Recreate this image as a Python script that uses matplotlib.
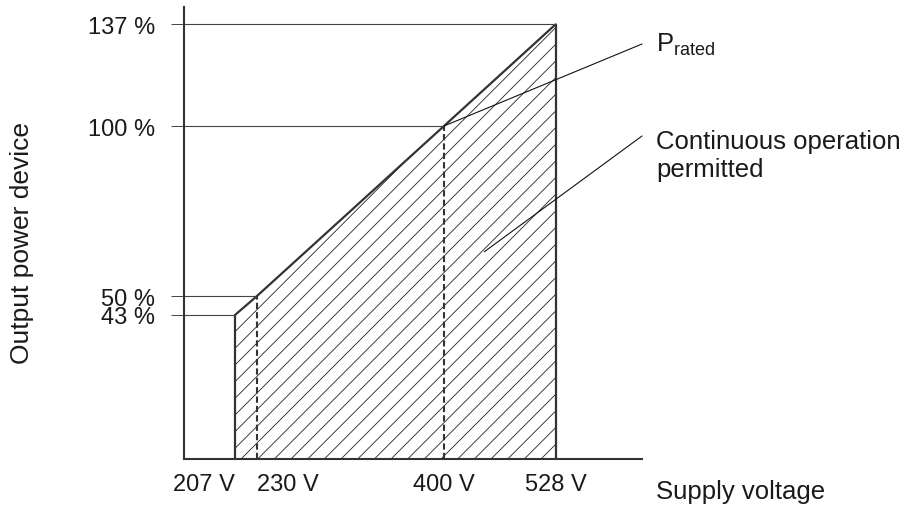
import numpy as np
import matplotlib
matplotlib.use("Agg")
from matplotlib import pyplot as plt

# data
volts = [207, 230, 400, 528]
power = [43, 50, 100, 137]
volt_labels = ["207 V", "230 V", "400 V", "528 V"]
power_labels = ["43 %", "50 %", "100 %", "137 %"]

# schematic axes: not to scale, so map values to positions piecewise
x_vals = [0, 207, 230, 400, 528, 700]
x_pos = [0, 51, 73, 260, 372, 458]
y_vals = [0, 43, 50, 100, 137, 150]
y_pos = [0, 144, 163, 333, 435, 452]

plt.rcParams['font.family'] = ['Liberation Sans', 'DejaVu Sans']
plt.rcParams['mathtext.fontset'] = 'custom'
plt.rcParams['mathtext.rm'] = 'Liberation Sans'
plt.rcParams['mathtext.it'] = 'Liberation Sans:italic'
plt.rcParams['hatch.linewidth'] = 0.6

W, H = 913, 506
fig = plt.figure(figsize=(W / 100, H / 100), dpi=100)
ax = fig.add_axes([184 / W, 46 / H, 458 / W, 452 / H])

ax.set_xscale('function', functions=(lambda v: np.interp(v, x_vals, x_pos),
                                     lambda p: np.interp(p, x_pos, x_vals)))
ax.set_yscale('function', functions=(lambda v: np.interp(v, y_vals, y_pos),
                                     lambda p: np.interp(p, y_pos, y_vals)))
ax.set_xlim(0, 700)
ax.set_ylim(0, 150)

dark = '#333333'
ax.fill_between(volts, power, 0, facecolor='white', edgecolor='#222222',
                hatch='//', linewidth=0)
ax.plot([volts[0]] + volts + [volts[-1]], [0] + power + [0],
        color=dark, lw=1.6, solid_joinstyle='miter')
ax.hlines(power, 0, volts, colors='#444444', lw=0.8)
ax.vlines([volts[1], volts[2]], 0, [power[1], power[2]], colors=dark,
          lw=1.5, linestyles=(0, (3, 1.5)))

for s in ['top', 'right']:
    ax.spines[s].set_visible(False)
for s in ['left', 'bottom']:
    ax.spines[s].set_linewidth(1.5)
    ax.spines[s].set_color(dark)

ax.set_yticks(power)
ax.set_yticklabels(power_labels)
ax.tick_params(axis='y', direction='out', length=9.4, width=0.7,
               color='#444444', pad=11.5, labelsize=17, labelcolor='#1a1a1a')
ax.set_xticks(volts)
ax.set_xticklabels(volt_labels)
ax.tick_params(axis='x', length=0, pad=10, labelsize=17, labelcolor='#1a1a1a')
xl = ax.get_xticklabels()
xl[0].set_ha('right')
xl[1].set_ha('left')
ax.yaxis.set_minor_locator(matplotlib.ticker.NullLocator())
ax.xaxis.set_minor_locator(matplotlib.ticker.NullLocator())

# leader lines to the notes on the right
line = dict(arrowstyle='-', lw=0.8, color='#111111', shrinkA=0, shrinkB=0)
ax.annotate('', xy=(volts[2], power[2]), xytext=(642, H - 45),
            textcoords='figure pixels', arrowprops=line, annotation_clip=False)
ax.annotate('', xy=(446, 63), xytext=(642, H - 137),
            textcoords='figure pixels', arrowprops=line, annotation_clip=False)

fig.text(656 / W, (H - 52) / H, r"P$_{\mathrm{rated}}$", fontsize=18.5,
         va='baseline', color='#1a1a1a')
fig.text(656 / W, (H - 177) / H, "Continuous operation\npermitted",
         fontsize=18.5, va='baseline', linespacing=1.2, color='#1a1a1a')
fig.text(656 / W, (H - 499) / H, "Supply voltage", fontsize=18.5,
         va='baseline', color='#1a1a1a')
fig.text(22 / W, (H - 243) / H, "Output power device", fontsize=19,
         rotation=90, ha='center', va='center', color='#1a1a1a')

fig.savefig('out.png', dpi=100)
